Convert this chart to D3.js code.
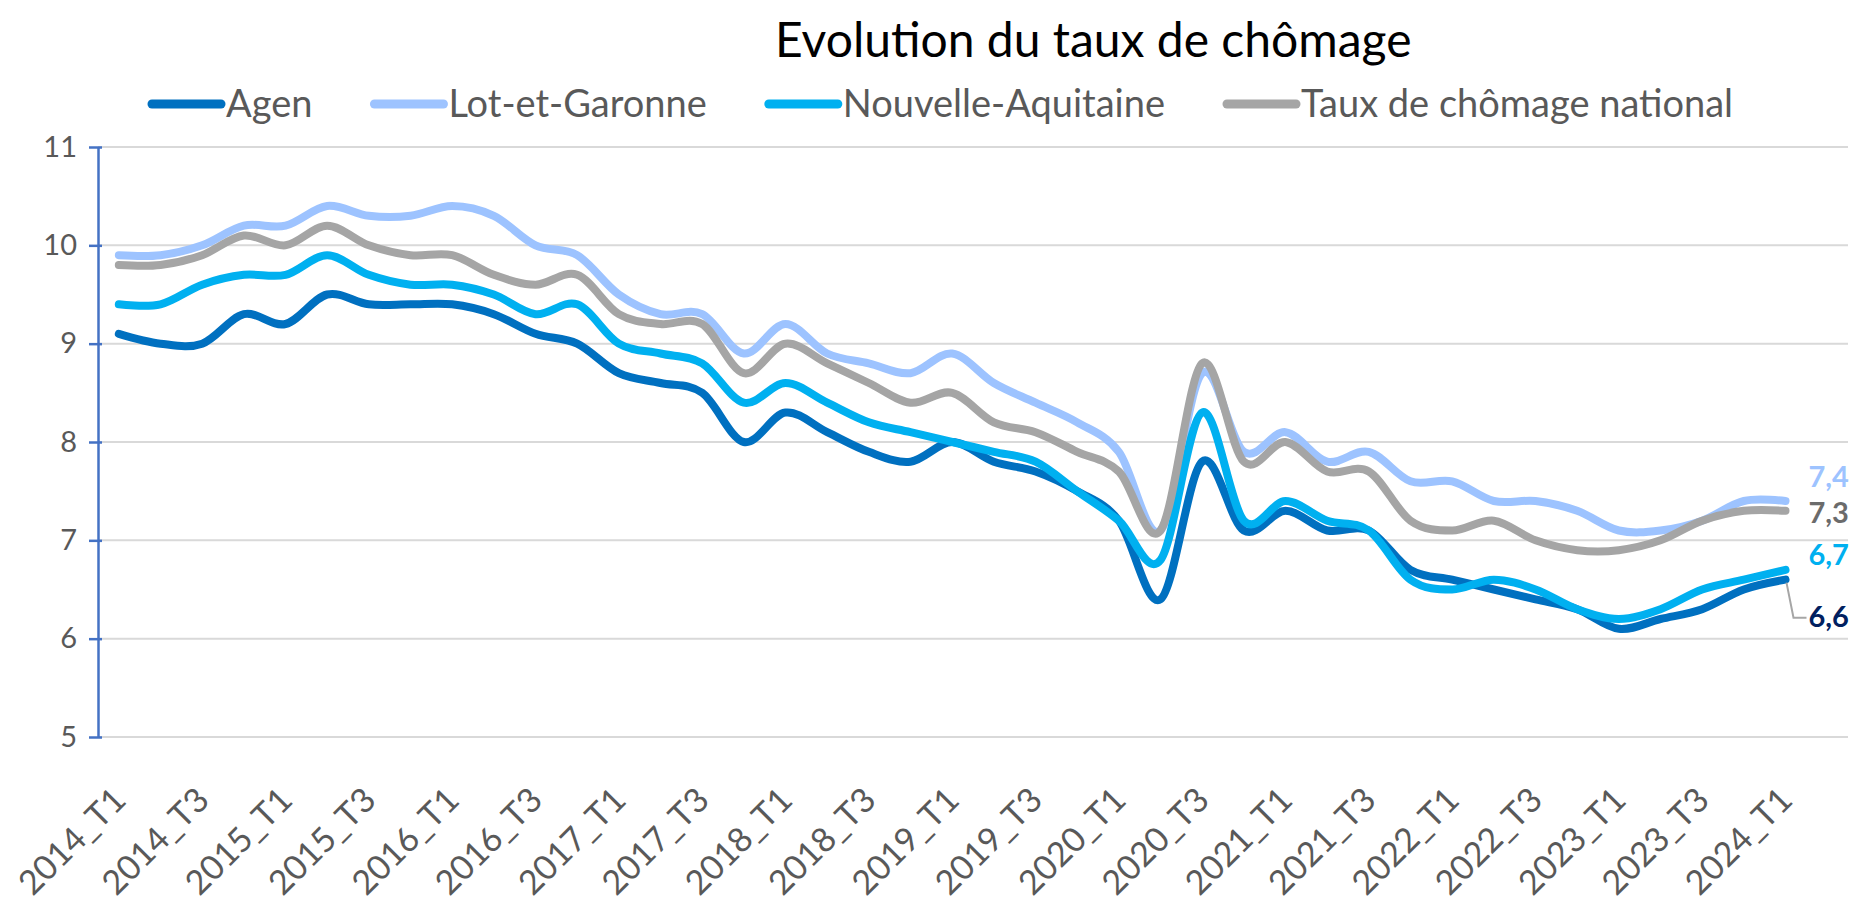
<!DOCTYPE html>
<html>
<head>
<meta charset="utf-8">
<script src="https://cdn.jsdelivr.net/npm/d3@7"></script>
<style>
  body { margin: 0; background: #fff; }
  svg { display: block; }
</style>
</head>
<body>
<svg id="chart"></svg>
<script>
// Quarterly categories (last one is an empty slot, as in the source chart)
const categories = [
  '2014_T1', '2014_T2', '2014_T3', '2014_T4', '2015_T1', '2015_T2', '2015_T3', '2015_T4',
  '2016_T1', '2016_T2', '2016_T3', '2016_T4', '2017_T1', '2017_T2', '2017_T3', '2017_T4',
  '2018_T1', '2018_T2', '2018_T3', '2018_T4', '2019_T1', '2019_T2', '2019_T3', '2019_T4',
  '2020_T1', '2020_T2', '2020_T3', '2020_T4', '2021_T1', '2021_T2', '2021_T3', '2021_T4',
  '2022_T1', '2022_T2', '2022_T3', '2022_T4', '2023_T1', '2023_T2', '2023_T3', '2023_T4',
  '2024_T1', '2024_T2'
];

const agen = [
  9.1, 9.0, 9.0, 9.3, 9.2, 9.5, 9.4, 9.4, 9.4, 9.3,
  9.1, 9.0, 8.7, 8.6, 8.5, 8.0, 8.3, 8.1, 7.9, 7.8,
  8.0, 7.8, 7.7, 7.5, 7.2, 6.4, 7.8, 7.1, 7.3, 7.1,
  7.1, 6.7, 6.6, 6.5, 6.4, 6.3, 6.1, 6.2, 6.3, 6.5,
  6.6
];

const lotEtGaronne = [
  9.9, 9.9, 10.0, 10.2, 10.2, 10.4, 10.3, 10.3, 10.4, 10.3,
  10.0, 9.9, 9.5, 9.3, 9.3, 8.9, 9.2, 8.9, 8.8, 8.7,
  8.9, 8.6, 8.4, 8.2, 7.9, 7.1, 8.7, 7.9, 8.1, 7.8,
  7.9, 7.6, 7.6, 7.4, 7.4, 7.3, 7.1, 7.1, 7.2, 7.4,
  7.4
];

const nouvelleAquitaine = [
  9.4, 9.4, 9.6, 9.7, 9.7, 9.9, 9.7, 9.6, 9.6, 9.5,
  9.3, 9.4, 9.0, 8.9, 8.8, 8.4, 8.6, 8.4, 8.2, 8.1,
  8.0, 7.9, 7.8, 7.5, 7.2, 6.8, 8.3, 7.2, 7.4, 7.2,
  7.1, 6.6, 6.5, 6.6, 6.5, 6.3, 6.2, 6.3, 6.5, 6.6,
  6.7
];

const national = [
  9.8, 9.8, 9.9, 10.1, 10.0, 10.2, 10.0, 9.9, 9.9, 9.7,
  9.6, 9.7, 9.3, 9.2, 9.2, 8.7, 9.0, 8.8, 8.6, 8.4,
  8.5, 8.2, 8.1, 7.9, 7.7, 7.1, 8.8, 7.8, 8.0, 7.7,
  7.7, 7.2, 7.1, 7.2, 7.0, 6.9, 6.9, 7.0, 7.2, 7.3,
  7.3
];

const seriesNames = ['Agen', 'Lot-et-Garonne', 'Nouvelle-Aquitaine', 'Taux de chômage national'];
const seriesValues = [agen, lotEtGaronne, nouvelleAquitaine, national];
const lastValueLabels = ['6,6', '7,4', '6,7', '7,3'];
const yTicks = [5, 6, 7, 8, 9, 10, 11];

// Styling
const colors = ['#0070C0', '#9DC3FF', '#00B0F0', '#A5A5A5'];
const labelColors = ['#002060', '#9DC3FF', '#00B0F0', '#6B6B6B'];
const labelDy = [37, -24, -15, 2]; // manual placement of the end labels
const font = 'Lato, "Open Sans", sans-serif';
const textColor = '#595959';

const width = 1863;
const height = 908;

const svg = d3.select('#chart')
  .attr('width', width)
  .attr('height', height);

const x = d3.scaleBand()
  .domain(categories)
  .range([98, 1848]);

const y = d3.scaleLinear()
  .domain([5, 11])
  .range([737, 147]);

const cx = c => x(c) + x.bandwidth() / 2;

// Gridlines
svg.append('g')
  .selectAll('line')
  .data(yTicks)
  .enter().append('line')
  .attr('x1', x.range()[0])
  .attr('x2', x.range()[1])
  .attr('y1', d => y(d))
  .attr('y2', d => y(d))
  .attr('stroke', '#D9D9D9')
  .attr('stroke-width', 2);

// Y axis
const yAxis = svg.append('g')
  .attr('transform', `translate(${x.range()[0]},0)`)
  .call(d3.axisLeft(y).tickValues(yTicks).tickSizeInner(9).tickSizeOuter(0).tickPadding(12).tickFormat(d3.format('d')));

yAxis.select('.domain')
  .attr('stroke', '#4472C4')
  .attr('stroke-width', 2.5);

yAxis.selectAll('.tick line')
  .attr('stroke', '#4472C4')
  .attr('stroke-width', 2.5)
  .attr('x2', -9)
  .attr('x1', 4);

yAxis.selectAll('.tick text')
  .attr('fill', textColor)
  .style('font-family', font)
  .style('font-size', '29px');

// X axis labels, every second quarter
const xLabels = categories.filter((c, i) => i % 2 === 0);

svg.append('g')
  .selectAll('text')
  .data(xLabels)
  .enter().append('text')
  .attr('transform', d => `translate(${cx(d) + 9},${802}) rotate(-45)`)
  .attr('text-anchor', 'end')
  .attr('fill', textColor)
  .style('font-family', font)
  .style('font-size', '34px')
  .text(d => d);

// Lines (Excel-like smoothing)
const line = d3.line()
  .x((d, i) => cx(categories[i]))
  .y(d => y(d))
  .curve(d3.curveCardinal.tension(0));

svg.append('g')
  .selectAll('path')
  .data(seriesValues)
  .enter().append('path')
  .attr('d', d => line(d))
  .attr('fill', 'none')
  .attr('stroke', (d, i) => colors[i])
  .attr('stroke-width', 8)
  .attr('stroke-linecap', 'round')
  .attr('stroke-linejoin', 'round');

// Leader line for the Agen label
const lastCat = categories[agen.length - 1];
const agenEndY = y(agen[agen.length - 1]);
svg.append('path')
  .attr('d', `M${cx(lastCat) + 1},${agenEndY + 3} L${cx(lastCat) + 8},${agenEndY + 38} L${cx(lastCat) + 21},${agenEndY + 38}`)
  .attr('fill', 'none')
  .attr('stroke', '#A6A6A6')
  .attr('stroke-width', 2);

// End value labels
svg.append('g')
  .selectAll('text')
  .data(seriesValues)
  .enter().append('text')
  .attr('x', cx(lastCat) + 23)
  .attr('y', (d, i) => y(d[d.length - 1]) + labelDy[i] + 10)
  .attr('fill', (d, i) => labelColors[i])
  .style('font-family', font)
  .style('font-size', '29px')
  .style('font-weight', 'bold')
  .text((d, i) => lastValueLabels[i]);

// Title
svg.append('text')
  .attr('x', 775)
  .attr('y', 57)
  .attr('fill', '#000')
  .style('font-family', font)
  .style('font-size', '48px')
  .text('Evolution du taux de chômage');

// Legend
const legend = svg.append('g');
let lx = 148;
seriesNames.forEach((name, i) => {
  legend.append('line')
    .attr('x1', lx + 4)
    .attr('x2', lx + 73)
    .attr('y1', 104)
    .attr('y2', 104)
    .attr('stroke', colors[i])
    .attr('stroke-width', 9)
    .attr('stroke-linecap', 'round');
  const t = legend.append('text')
    .attr('x', lx + 78)
    .attr('y', 117)
    .attr('fill', textColor)
    .style('font-family', font)
    .style('font-size', '38px')
    .text(name);
  lx += 78 + t.node().getComputedTextLength() + 58;
});
</script>
</body>
</html>
